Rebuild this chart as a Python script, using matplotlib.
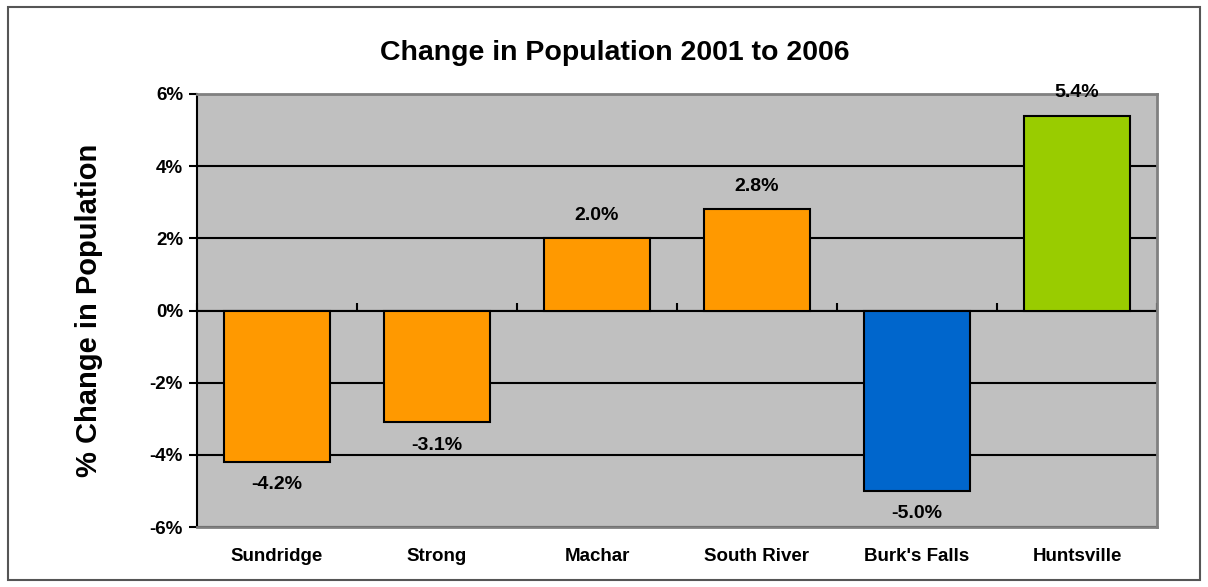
import numpy as np
import matplotlib.pyplot as plt
from matplotlib.patches import Rectangle

towns = ["Sundridge", "Strong", "Machar", "South River", "Burk's Falls", "Huntsville"]
change = [-4.2, -3.1, 2.0, 2.8, -5.0, 5.4]
bar_colors = ["#FF9900", "#FF9900", "#FF9900", "#FF9900", "#0066CC", "#99CC00"]
y_ticks = [-6, -4, -2, 0, 2, 4, 6]

plt.rcParams['font.family'] = ['Liberation Sans', 'DejaVu Sans']
plt.rcParams['font.weight'] = 'bold'

fig = plt.figure(figsize=(12.08, 5.87), dpi=100)
ax = fig.add_axes([197 / 1208, 60 / 587, 960 / 1208, 433 / 587])
ax.set_facecolor("#C0C0C0")

# outer chart frame
fig.patches.append(Rectangle((8 / 1208, 7 / 587), 1192 / 1208, 573 / 587,
                             transform=fig.transFigure, fill=False,
                             edgecolor="#555555", linewidth=1.5))

x = np.arange(len(towns))
ax.set_axisbelow(True)
ax.yaxis.grid(True, color="black", linewidth=1.5)
ax.bar(x, change, width=0.66, color=bar_colors, edgecolor="black", linewidth=1.5, zorder=3)

for xi, v in zip(x, change):
    off = 0.4 if v > 0 else -0.4
    ax.text(xi, v + off, f"{v:.1f}%", ha="center", va="bottom" if v > 0 else "top",
            fontsize=14, fontweight="bold")

ax.set_xlim(-0.5, len(towns) - 0.5)
ax.set_ylim(-6, 6)
ax.set_yticks(y_ticks)
ax.set_yticklabels([f"{t}%" for t in y_ticks])
ax.tick_params(axis="y", direction="out", length=6, width=1.5, labelsize=13.5, pad=4)
ax.set_xticks(x)
ax.set_xticklabels(towns)
ax.tick_params(axis="x", length=0, labelsize=13.5, pad=15)

for s in ["top", "right", "bottom"]:
    ax.spines[s].set_color("#808080")
    ax.spines[s].set_linewidth(2)
ax.spines["left"].set_color("black")
ax.spines["left"].set_linewidth(1.5)

# category axis at zero with ticks between categories
sec = ax.secondary_xaxis(0.5)
sec.set_xticks(np.arange(-0.5, len(towns)))
sec.set_xticklabels([])
sec.tick_params(direction="out", length=5, width=1.5)
sec.spines["bottom"].set_linewidth(1.5)
sec.spines["bottom"].set_color("black")

ax.set_ylabel("% Change in Population", fontsize=21, fontweight="bold", labelpad=34)
fig.text(615 / 1208, 1 - 53 / 587, "Change in Population 2001 to 2006",
         ha="center", va="center", fontsize=20.5, fontweight="bold")

fig.savefig("out.png", dpi=100)
